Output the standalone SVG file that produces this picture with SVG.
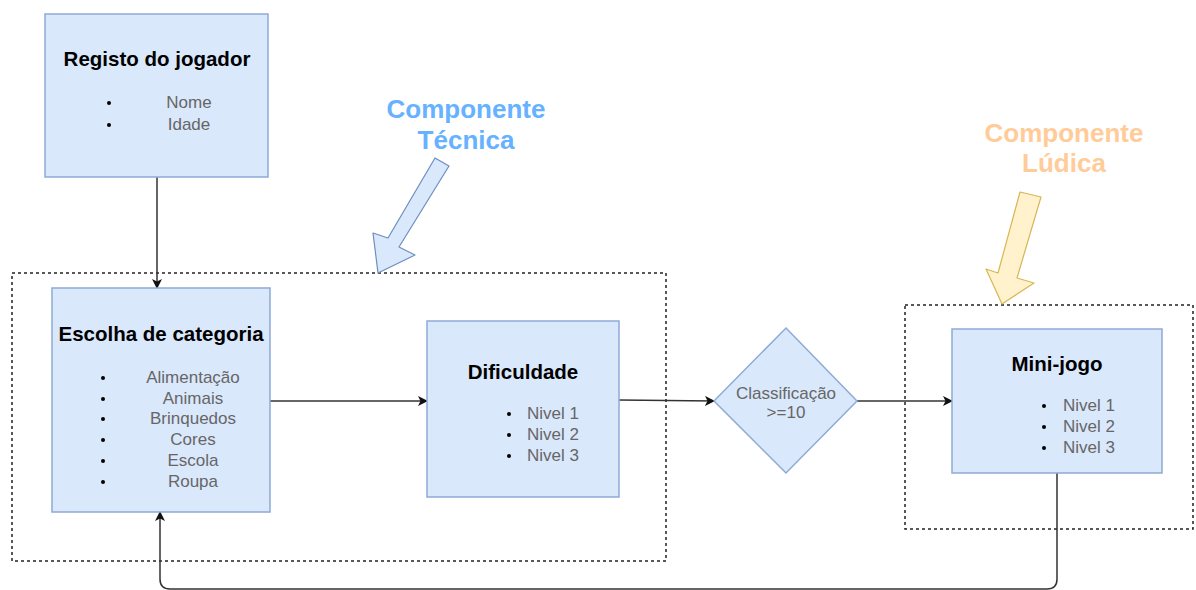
<svg xmlns="http://www.w3.org/2000/svg" width="1196" height="590" viewBox="0 0 1196 590">
  <style>
    .box { fill: #dae8fc; stroke: #8eaad6; stroke-width: 1.5; }
    .title { font-family: "Liberation Sans", Arial, sans-serif; font-weight: bold; font-size: 20.5px; fill: #000; text-anchor: middle; }
    .item { font-family: "Liberation Sans", Arial, sans-serif; font-size: 17px; fill: #666666; }
    .mid { text-anchor: middle; }
    .dot { fill: #000; }
    .group { fill: none; stroke: #222; stroke-width: 1.5; stroke-dasharray: 3 3; }
    .edge { fill: none; stroke: #333; stroke-width: 1.5; }
    .label { font-family: "Liberation Sans", Arial, sans-serif; font-weight: bold; font-size: 26px; text-anchor: middle; }
  </style>
  <defs>
    <marker id="arrow" viewBox="0 0 10 10" refX="9" refY="5" markerWidth="10" markerHeight="10" markerUnits="userSpaceOnUse" orient="auto">
      <path d="M0,0 L10,5 L0,10 L2.5,5 Z" fill="#111"/>
    </marker>
  </defs>

  <rect width="1196" height="590" fill="#fff"/>

  <!-- grouping frames -->
  <g id="frame-tecnica">
    <rect class="group" x="12" y="273" width="654" height="288"/>
  </g>
  <g id="frame-ludica">
    <rect class="group" x="905" y="305" width="288" height="224"/>
  </g>

  <!-- connectors -->
  <g id="connectors">
    <line class="edge" x1="157" y1="177" x2="157" y2="288" marker-end="url(#arrow)"/>
    <line class="edge" x1="270" y1="401" x2="427" y2="401" marker-end="url(#arrow)"/>
    <line class="edge" x1="619" y1="400" x2="714" y2="401" marker-end="url(#arrow)"/>
    <line class="edge" x1="857" y1="401" x2="952" y2="401" marker-end="url(#arrow)"/>
    <path class="edge" d="M1057,473 V579 Q1057,589 1047,589 H170 Q160,589 160,579 V512" marker-end="url(#arrow)"/>
  </g>

  <!-- Registo do jogador -->
  <g id="node-registo">
    <rect class="box" x="45" y="14" width="223" height="163"/>
    <text class="title" x="157" y="66">Registo do jogador</text>
    <circle class="dot" cx="109" cy="103" r="2"/>
    <circle class="dot" cx="109" cy="125" r="2"/>
    <text class="item mid" x="189" y="108">Nome</text>
    <text class="item mid" x="189" y="130">Idade</text>
  </g>

  <!-- Escolha de categoria -->
  <g id="node-escolha">
    <rect class="box" x="52" y="288" width="218" height="224"/>
    <text class="title" x="161" y="341">Escolha de categoria</text>
    <circle class="dot" cx="103" cy="378" r="2"/>
    <circle class="dot" cx="103" cy="399" r="2"/>
    <circle class="dot" cx="103" cy="419" r="2"/>
    <circle class="dot" cx="103" cy="440" r="2"/>
    <circle class="dot" cx="103" cy="461" r="2"/>
    <circle class="dot" cx="103" cy="482" r="2"/>
    <text class="item mid" x="193" y="383">Alimentação</text>
    <text class="item mid" x="193" y="404">Animais</text>
    <text class="item mid" x="193" y="424">Brinquedos</text>
    <text class="item mid" x="193" y="445">Cores</text>
    <text class="item mid" x="193" y="466">Escola</text>
    <text class="item mid" x="193" y="487">Roupa</text>
  </g>

  <!-- Dificuldade -->
  <g id="node-dificuldade">
    <rect class="box" x="427" y="321" width="192" height="176"/>
    <text class="title" x="523" y="379">Dificuldade</text>
    <circle class="dot" cx="509" cy="414" r="2"/>
    <circle class="dot" cx="509" cy="435" r="2"/>
    <circle class="dot" cx="509" cy="456" r="2"/>
    <text class="item" x="527" y="419">Nivel 1</text>
    <text class="item" x="527" y="440">Nivel 2</text>
    <text class="item" x="527" y="461">Nivel 3</text>
  </g>

  <!-- Classificação decision -->
  <g id="node-classificacao">
    <polygon class="box" points="786,328 857,401 786,473 714,401"/>
    <text class="item mid" x="786" y="399">Classificação</text>
    <text class="item mid" x="786" y="418">&gt;=10</text>
  </g>

  <!-- Mini-jogo -->
  <g id="node-minijogo">
    <rect class="box" x="952" y="329" width="210" height="144"/>
    <text class="title" x="1057" y="371">Mini-jogo</text>
    <circle class="dot" cx="1044" cy="406" r="2"/>
    <circle class="dot" cx="1044" cy="427" r="2"/>
    <circle class="dot" cx="1044" cy="448" r="2"/>
    <text class="item" x="1063" y="411">Nivel 1</text>
    <text class="item" x="1063" y="432">Nivel 2</text>
    <text class="item" x="1063" y="453">Nivel 3</text>
  </g>

  <!-- Componente Técnica callout -->
  <g id="callout-tecnica">
    <text class="label" x="466" y="118" fill="#66b2ff">Componente</text>
    <text class="label" x="466" y="149" fill="#66b2ff">Técnica</text>
    <polygon points="435,158 449,166 399,247 415,255 378,273 373,233 388,238" fill="#dae8fc" stroke="#6c8ebf" stroke-width="1.2" stroke-linejoin="round"/>
  </g>

  <!-- Componente Lúdica callout -->
  <g id="callout-ludica">
    <text class="label" x="1064" y="142" fill="#ffcc99">Componente</text>
    <text class="label" x="1064" y="172" fill="#ffcc99">Lúdica</text>
    <polygon points="1020,192 1041,197 1017,278 1034,283 1002,304 986,269 998,273" fill="#fff2cc" stroke="#d6b656" stroke-width="1.2" stroke-linejoin="round"/>
  </g>
</svg>
